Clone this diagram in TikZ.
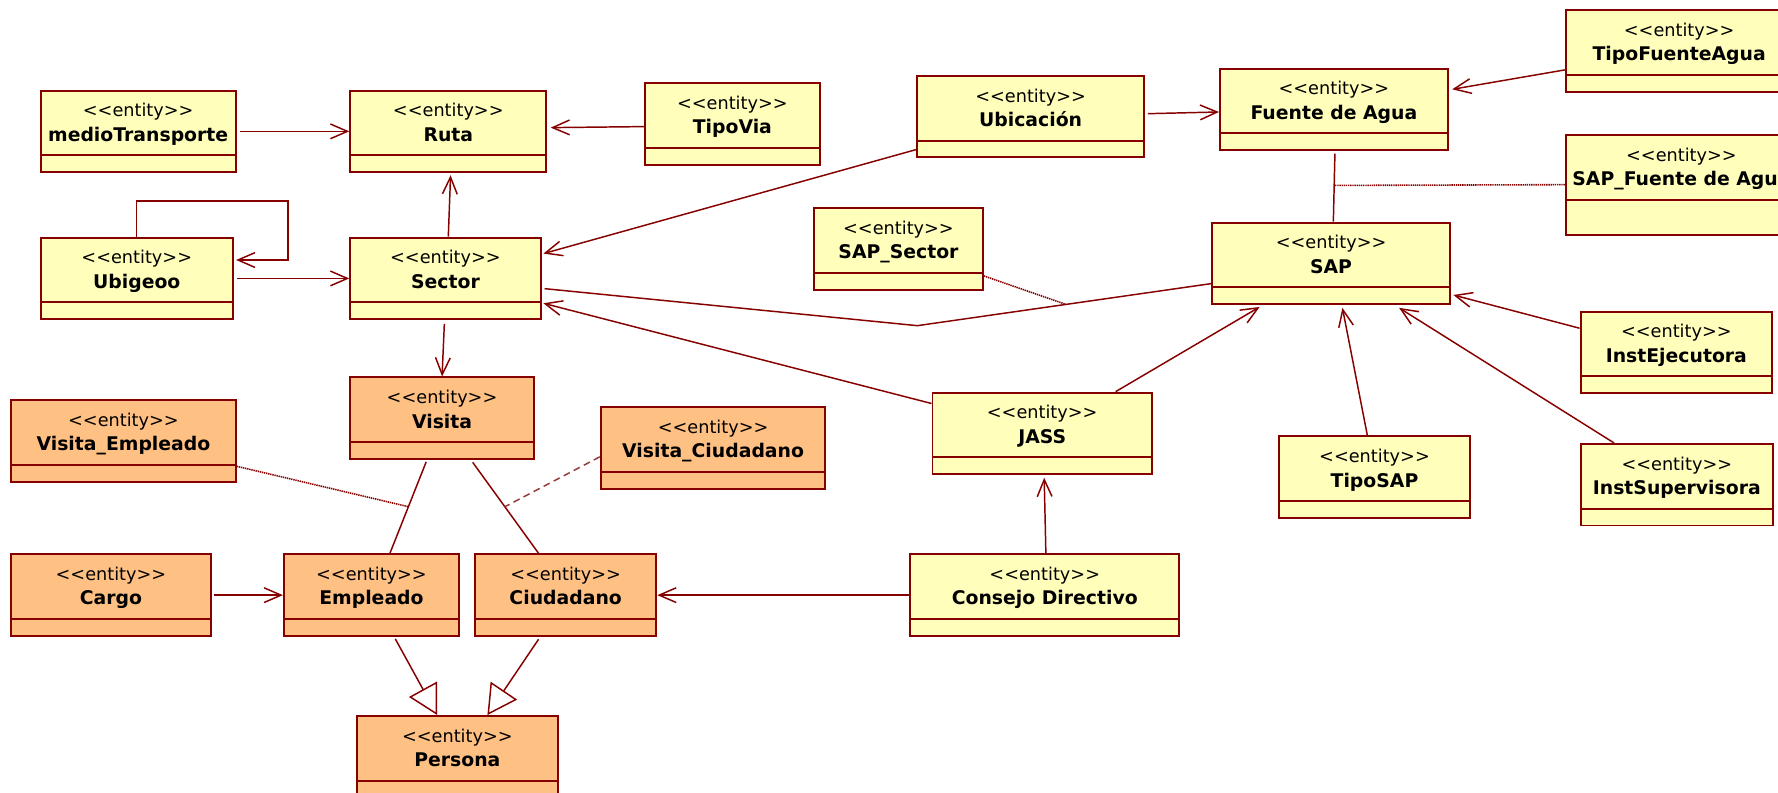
\documentclass[tikz,border=0pt]{standalone}
\usepackage{fontspec}
\newfontfamily\diafont{DejaVu Sans}
\usetikzlibrary{arrows.meta,calc}

\definecolor{edge}{RGB}{135,0,0}
\definecolor{yel}{RGB}{255,255,187}
\definecolor{ora}{RGB}{255,192,132}
\definecolor{dashcol}{RGB}{150,60,60}

\tikzset{
  entbox/.style={rectangle, draw=edge, line width=1.7pt, minimum height=72pt, inner sep=0pt},
  ybox/.style={entbox, fill=yel},
  obox/.style={entbox, fill=ora},
  boxedge/.style={draw=edge, line width=1.8pt},
  stereo/.style={anchor=base, inner sep=0pt, font=\diafont\fontsize{15.6}{18}\selectfont},
  etitle/.style={anchor=base, inner sep=0pt, font=\diafont\bfseries\fontsize{16.6}{19}\selectfont},
  assoc/.style={draw=edge, line width=1.3pt, -{Straight Barb[length=15pt,width=13pt]}},
  link/.style={draw=edge, line width=1.3pt},
  gener/.style={draw=edge, line width=1.3pt, -{Triangle[open, length=26pt, width=28pt]}},
  dotlink/.style={draw=edge, line width=1.4pt, dash pattern=on 1.2pt off 0.7pt},
  dashlink/.style={draw=dashcol, line width=1.3pt, dash pattern=on 6pt off 4pt},
}

% entity box: name, left x, top y, width, style, title
\newcommand\entity[6]{%
  \node[#5, minimum width=#4pt, anchor=north west] (#1) at (#2,#3) {};
  \draw[boxedge] ([yshift=-58pt]#1.north west) -- ([yshift=-58pt]#1.north east);
  \node[stereo] (#1st) at ([yshift=-24pt]#1.north) {<<entity>>};
  \node[etitle] (#1ti) at ([yshift=-45.5pt]#1.north) {#6};
}

\begin{document}
\begin{tikzpicture}[x=1pt, y=-1pt]
\useasboundingbox (0,0) rectangle (1568,699);
\clip (0,0) rectangle (1568,699);
\fill[white] (0,0) rectangle (1568,699);

% entities
\entity{medio}{35}{79}{172}{ybox}{medioTransporte}
\entity{ruta}{308}{79}{173}{ybox}{Ruta}
\entity{tipovia}{568}{72.6}{154}{ybox}{TipoVia}
\entity{ubic}{808}{66}{200}{ybox}{Ubicación}
\entity{fuente}{1075}{59.7}{201}{ybox}{Fuente de Agua}
\entity{tipofa}{1380}{8}{200}{ybox}{TipoFuenteAgua}
\entity{sapfa}{1380}{118}{204}{ybox, minimum height=88pt}{SAP\_Fuente de Agua}
\entity{sapsec}{717}{182.5}{149}{ybox}{SAP\_Sector}
\entity{sap}{1068}{195.5}{210}{ybox}{SAP}
\entity{ubigeo}{35}{208.7}{169.5}{ybox}{Ubigeoo}
\entity{sector}{308}{208.7}{168}{ybox}{Sector}
\entity{instej}{1393}{274}{169}{ybox}{InstEjecutora}
\entity{visita}{308}{332}{162}{obox}{Visita}
\entity{visemp}{9}{352}{198}{obox}{Visita\_Empleado}
\entity{visciu}{529}{358}{198}{obox}{Visita\_Ciudadano}
\entity{jass}{821.5}{345.4}{193.5}{ybox}{JASS}
\entity{tiposap}{1127}{384}{168.6}{ybox}{TipoSAP}
\entity{instsup}{1393.4}{390.6}{169}{ybox}{InstSupervisora}
\entity{cargo}{9}{488}{176}{obox}{Cargo}
\entity{empleado}{249.5}{488}{154.5}{obox}{Empleado}
\entity{ciudadano}{418}{488}{160}{obox}{Ciudadano}
\entity{consejo}{802}{488}{237}{ybox}{Consejo Directivo}
\entity{persona}{314}{630.6}{177}{obox}{Persona}

% navigable associations
\draw[assoc] ([xshift=3pt]medio.east) -- (ruta.west);
\draw[assoc] ([yshift=-2.2pt]tipovia.west) -- ([xshift=3pt,yshift=3.3pt]ruta.east);
\draw[assoc] ([xshift=2.5pt]sector.north) -- ([xshift=2pt,yshift=-1.8pt]ruta.south);
\draw[assoc] (ubigeo.north) -- ++(0,-31.4) -- ++(133.25,0) -- ++(0,52)
  -- ([xshift=2pt,yshift=-20.6pt]ubigeo.north east);
\draw[assoc] ([xshift=3pt]ubigeo.east) -- (sector.west);
\draw[assoc] ([yshift=7.8pt]ubic.south west) -- ([xshift=1.5pt,yshift=21.9pt]sector.east);
\draw[assoc] ([xshift=2.6pt,yshift=2.6pt]ubic.east) -- ([yshift=-2.2pt]fuente.west);
\draw[assoc] ([yshift=-16.8pt]tipofa.west) -- ([xshift=3pt,yshift=17.8pt]fuente.east);
\draw[assoc] ([xshift=64.75pt]jass.north) -- ([xshift=-63pt,yshift=-1.5pt]sap.south);
\draw[assoc] ([yshift=26.4pt]jass.west) -- ([xshift=1.5pt,yshift=-21.9pt]sector.east);
\draw[assoc] ([xshift=1pt]consejo.north) -- ([xshift=1.75pt,yshift=-2.2pt]jass.south);
\draw[assoc] (consejo.west) -- (ciudadano.east);
\draw[assoc] ([xshift=-6.3pt]tiposap.north) -- ([xshift=10pt,yshift=-2.3pt]sap.south);
\draw[assoc] ([xshift=-55.4pt]instsup.north) -- ([xshift=60pt,yshift=-2.3pt]sap.south);
\draw[assoc] ([yshift=21.4pt]instej.west) -- ([xshift=2pt,yshift=-27.8pt]sap.east);
\draw[assoc] ([xshift=-1pt,yshift=-3.3pt]sector.south) -- (visita.north);
\draw[assoc] ([xshift=2pt]cargo.east) -- (empleado.west);

% plain associations
\coordinate (fs1) at ([xshift=0.9pt,yshift=-2.1pt]fuente.south);
\coordinate (fs2) at ([xshift=2pt]sap.north);
\draw[link] (fs1) -- (fs2);
\coordinate (ss1) at ([xshift=2.5pt,yshift=-9pt]sector.east);
\coordinate (bend) at (809,287.2);
\coordinate (ss2) at ([yshift=-17.8pt]sap.west);
\draw[link] (ss1) -- (bend) -- (ss2);
\coordinate (ve1) at ([xshift=-14pt,yshift=-1.6pt]visita.south);
\coordinate (ve2) at ([xshift=16.25pt]empleado.north);
\draw[link] (ve1) -- (ve2);
\coordinate (vc1) at ([xshift=27pt,yshift=-2pt]visita.south);
\coordinate (vc2) at ([xshift=-23.85pt]ciudadano.north);
\draw[link] (vc1) -- (vc2);

% association classes
\draw[dotlink] (sapfa.west) -- ($(fs1)!0.467!(fs2)$);
\draw[dotlink] ([yshift=-24pt]sapsec.east) -- ($(bend)!0.506!(ss2)$);
\draw[dotlink] ([yshift=14.5pt]visemp.south east) -- ($(ve1)!0.49!(ve2)$);
\draw[dashlink] ([yshift=-8pt]visciu.west) -- ($(vc1)!0.488!(vc2)$);

% generalizations
\draw[gener] ([xshift=21pt,yshift=-1.7pt]empleado.south) -- ([xshift=-17.8pt]persona.north);
\draw[gener] ([xshift=-23.85pt,yshift=-2pt]ciudadano.south) -- ([xshift=26.5pt]persona.north);
\end{tikzpicture}
\end{document}
